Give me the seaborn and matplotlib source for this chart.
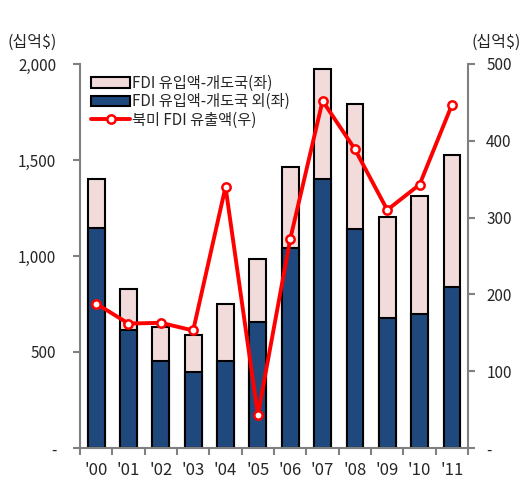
import matplotlib
matplotlib.use("Agg")
import matplotlib.pyplot as plt
import numpy as np
import pandas as pd
import seaborn as sns

# ========== DONNEES ==========
annees = ["'00", "'01", "'02", "'03", "'04", "'05", "'06", "'07", "'08", "'09", "'10", "'11"]
fdi_hors_pvd = [1146, 615, 455, 398, 455, 655, 1040, 1399, 1142, 679, 696, 840]
fdi_total = [1401, 828, 632, 589, 748, 983, 1465, 1974, 1792, 1201, 1311, 1528]
fdi_sortant_am_nord = [188, 162, 163, 153, 340, 43, 272, 452, 389, 310, 343, 447]

labels_gauche = ["-", "500", "1,000", "1,500", "2,000"]
labels_droite = ["-", "100", "200", "300", "400", "500"]

# ========== STYLE ==========
sns.set_style("white")
plt.rcParams["font.family"] = ["Noto Sans CJK KR", "DejaVu Sans"]
gris = "#808080"

df = pd.DataFrame({"annee": annees, "total": fdi_total, "hors": fdi_hors_pvd,
                   "sortant": fdi_sortant_am_nord})

fig = plt.figure(figsize=(5.26, 4.83), dpi=100)
ax = fig.add_axes([0.152, 0.0725, 0.738, 0.795])

sns.barplot(data=df, x="annee", y="total", color="#F2DCDB", edgecolor="black",
            linewidth=1.5, width=0.52, saturation=1, ax=ax, label="FDI 유입액-개도국(좌)")
sns.barplot(data=df, x="annee", y="hors", color="#1F497D", edgecolor="black",
            linewidth=1.5, width=0.52, saturation=1, ax=ax, label="FDI 유입액-개도국 외(좌)")

ax.set_ylim(0, 2000)
ax.set_xlim(-0.5, len(annees) - 0.5)
ax.set_yticks(np.arange(0, 2001, 500))
ax.set_yticklabels(labels_gauche, fontsize=11)
ax.set_xlabel("")
ax.set_ylabel("")

ax2 = ax.twinx()
sns.lineplot(data=df, x="annee", y="sortant", sort=False, color="#FF0000", linewidth=2.8,
             marker="o", markersize=6, markerfacecolor="white", markeredgecolor="#FF0000",
             markeredgewidth=1.8, ax=ax2, label="북미 FDI 유출액(우)")
ax2.set_ylim(0, 500)
ax2.set_yticks(np.arange(0, 501, 100))
ax2.set_yticklabels(labels_droite, fontsize=11)
ax2.set_ylabel("")
ax2.set_xlim(-0.5, len(annees) - 0.5)

# axes
for a in (ax, ax2):
    for s in a.spines.values():
        s.set_visible(False)
ax.spines["left"].set_visible(True)
ax.spines["left"].set_color(gris)
ax.spines["left"].set_linewidth(1.5)
ax.spines["bottom"].set_visible(True)
ax.spines["bottom"].set_color(gris)
ax.spines["bottom"].set_linewidth(1.5)
ax2.spines["right"].set_visible(True)
ax2.spines["right"].set_color(gris)
ax2.spines["right"].set_linewidth(1.5)

ax.tick_params(axis="y", left=True, length=5, width=1.5, color=gris, pad=12)
ax2.tick_params(axis="y", right=True, length=5, width=1.5, color=gris, pad=8)
ax.set_xticks(range(len(annees)))
ax.set_xticklabels(annees, fontsize=12)
ax.tick_params(axis="x", bottom=True, length=0, pad=10)
ax.set_xticks(np.arange(-0.5, len(annees), 1), minor=True)
ax.tick_params(axis="x", which="minor", bottom=True, length=5, width=1.5, color=gris)

fig.text(0.015, 0.913, "(십억$)", fontsize=11.5, ha="left", va="center")
fig.text(0.99, 0.913, "(십억$)", fontsize=11.5, ha="right", va="center")

# legende
h1, l1 = ax.get_legend_handles_labels()
h2, l2 = ax2.get_legend_handles_labels()
if ax2.get_legend():
    ax2.get_legend().remove()
ax.legend(h1 + h2, l1 + l2, loc="upper left", bbox_to_anchor=(0.0, 1.0), frameon=False,
          fontsize=11, handlelength=2.6, handletextpad=0.1, labelspacing=0.1,
          borderaxespad=0.3)

fig.savefig("out.png", dpi=100)
